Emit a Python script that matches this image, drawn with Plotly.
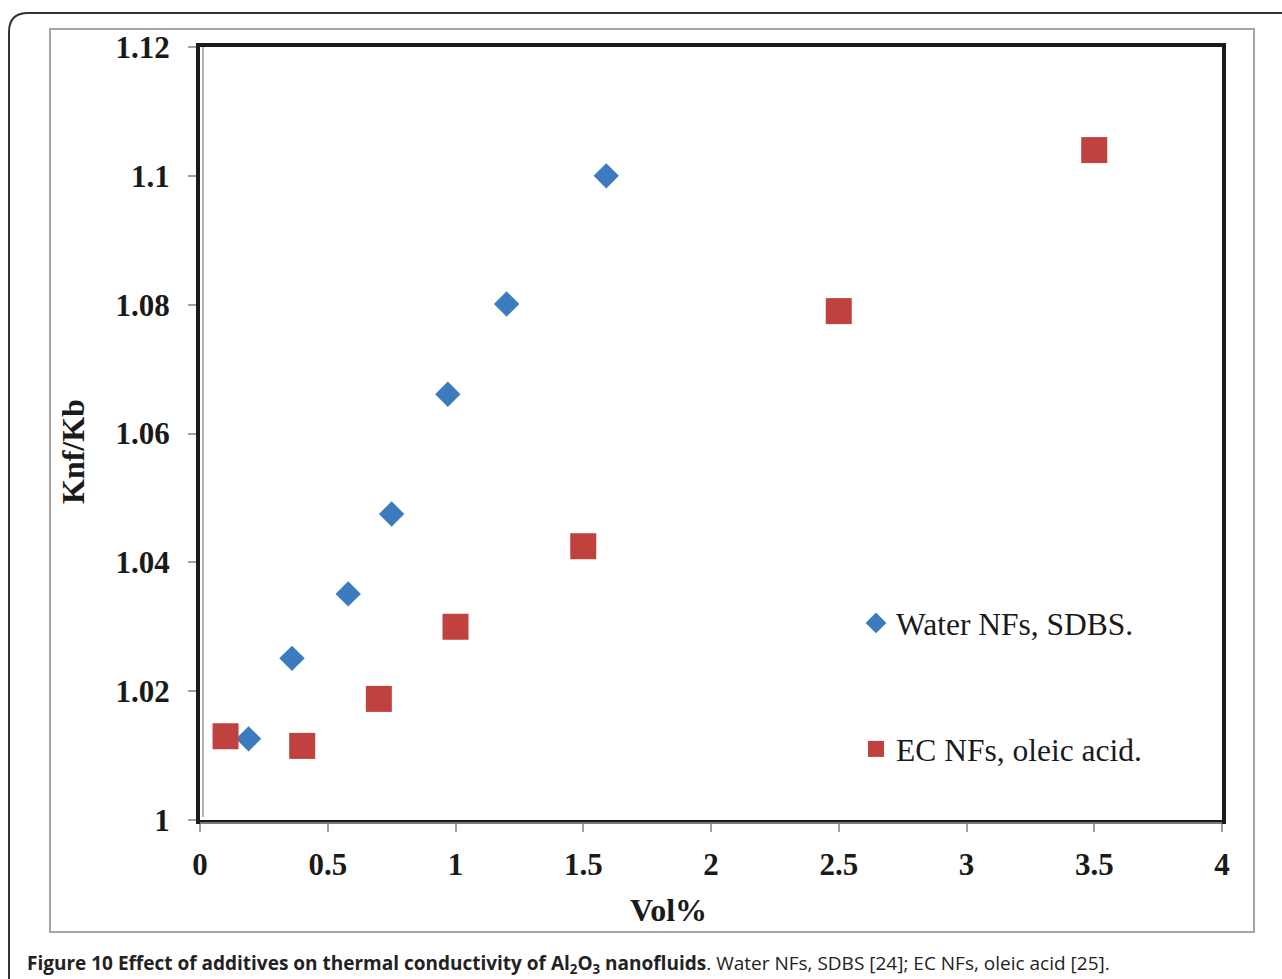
import plotly.graph_objects as go

# ---- data ----
water_x = [0.19, 0.36, 0.58, 0.75, 0.97, 1.2, 1.59]
water_y = [1.0126, 1.0251, 1.0351, 1.0475, 1.0661, 1.0801, 1.1000]
ec_x = [0.1, 0.4, 0.7, 1.0, 1.5, 2.5, 3.5]
ec_y = [1.0130, 1.0115, 1.0188, 1.0300, 1.0425, 1.0790, 1.1040]
x_ticks = [0, 0.5, 1, 1.5, 2, 2.5, 3, 3.5, 4]
x_ticklabels = ["0", "0.5", "1", "1.5", "2", "2.5", "3", "3.5", "4"]
y_ticks = [1.0, 1.02, 1.04, 1.06, 1.08, 1.1, 1.12]
y_ticklabels = ["1", "1.02", "1.04", "1.06", "1.08", "1.1", "1.12"]
series_names = ["Water NFs, SDBS.", "EC NFs, oleic acid."]

W, H = 1282, 979
L, R, T, B = 200, 1222, 47, 820  # plot area in pixels


def px(x):
    return (x - L) / (R - L)


def py(y):
    return (B - y) / (B - T)


serif = "Liberation Serif, Times New Roman, serif"

fig = go.Figure()
fig.add_trace(go.Scatter(
    x=water_x, y=water_y, mode="markers", name=series_names[0], legendgroup="a",
    marker=dict(symbol="diamond", size=19.5, color="#3D7BC1", line=dict(width=0)),
))
fig.add_trace(go.Scatter(
    x=ec_x, y=ec_y, mode="markers", name=series_names[1], legendgroup="b",
    marker=dict(symbol="square", size=26, color="#C0423F", line=dict(width=0)),
))

axis_common = dict(
    showline=True, linecolor="#1a1a1a", linewidth=4, mirror=True,
    showgrid=False, zeroline=False,
    ticks="outside", ticklen=8, tickwidth=2, tickcolor="#a0a0a0",
    tickfont=dict(family=serif, size=31, color="#1a1a1a", weight="bold"),
)

fig.update_xaxes(range=[0, 4], tickvals=x_ticks, ticktext=x_ticklabels,
                 ticklabelstandoff=6, **axis_common)
fig.update_yaxes(range=[1.0, 1.12], tickvals=y_ticks, ticktext=y_ticklabels,
                 ticklabelstandoff=12, **axis_common)

shapes = [
    # outer rounded frame
    dict(type="path", xref="paper", yref="paper",
         path=f"M {px(9)} {py(979)} L {px(9)} {py(32)} Q {px(9)} {py(13)} {px(28)} {py(13)} L {px(1282)} {py(13)}",
         line=dict(color="#333333", width=2)),
    # inner gray frame
    dict(type="rect", xref="paper", yref="paper",
         x0=px(50), x1=px(1254), y0=py(932), y1=py(29),
         line=dict(color="#a6a6a6", width=2), layer="below"),
    # gray inner lines along left and bottom axes
    dict(type="line", xref="paper", yref="paper",
         x0=px(203), x1=px(203), y0=py(817), y1=py(47),
         line=dict(color="#9a9a9a", width=1.5)),
    dict(type="line", xref="paper", yref="paper",
         x0=px(200), x1=px(1222), y0=py(823), y1=py(823),
         line=dict(color="#9a9a9a", width=1.5)),
]

annotations = [
    dict(text="Vol%", xref="paper", yref="paper", x=px(668), y=py(910),
         xanchor="center", yanchor="middle",
         showarrow=False, font=dict(family=serif, size=32, color="#1a1a1a", weight="bold")),
    dict(text="Knf/Kb", xref="paper", yref="paper", x=px(73), y=py(452),
         xanchor="center", yanchor="middle",
         textangle=-90, showarrow=False,
         font=dict(family=serif, size=32, color="#1a1a1a", weight="bold")),
    dict(text="<b>Figure 10 Effect of additives on thermal conductivity of Al<sub>2</sub>O<sub>3</sub> nanofluids</b>. "
              "Water NFs, SDBS [24]; EC NFs, oleic acid [25].",
         xref="paper", yref="paper", x=px(25), y=py(964), xanchor="left", yanchor="middle",
         showarrow=False, font=dict(family="Open Sans, sans-serif", size=19, color="#222222")),
]

fig.update_layout(
    width=W, height=H,
    margin=dict(l=L, r=W - R, t=T, b=H - B),
    paper_bgcolor="white", plot_bgcolor="white",
    shapes=shapes, annotations=annotations,
    showlegend=True,
    legend=dict(x=px(856), y=py(596), xanchor="left", yanchor="top",
                font=dict(family=serif, size=31.5, color="#1a1a1a"),
                tracegroupgap=82, bgcolor="rgba(0,0,0,0)",
                itemsizing="trace"),
)

fig.write_html("out.html",
               config={"displayModeBar": False},
               post_script="document.body.style.margin='0';document.body.style.padding='0';"
                           "document.documentElement.style.overflow='hidden';")
